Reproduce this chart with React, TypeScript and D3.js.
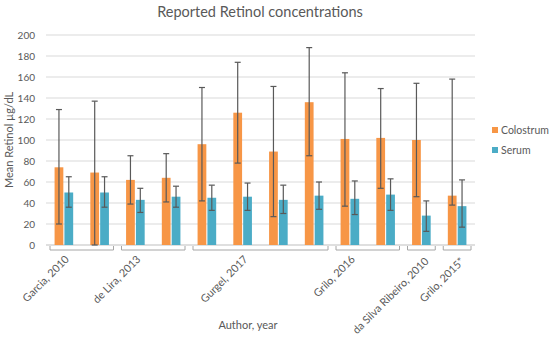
import React from 'react';
import * as d3 from 'd3';

// study groups (outer axis level) and how many sub-columns each one holds
const groups = ['Garcia, 2010', 'de Lira, 2013', 'Gurgel, 2017', 'Grilo, 2016', 'da Silva Ribeiro, 2010', 'Grilo, 2015*'];
const groupSizes = [2, 2, 4, 2, 1, 1];

const seriesNames = ['Colostrum', 'Serum'];

// mean values, with error bar ends
const colostrum = [74, 69, 62, 64, 96, 126, 89, 136, 101, 102, 100, 47];
const colostrumHi = [129, 137, 85, 87, 150, 174, 151, 188, 164, 149, 154, 158];
const colostrumLo = [20, 0, 39, 41, 42, 78, 27, 85, 37, 54, 46, 38];
const serum = [50, 50, 43, 46, 45, 46, 43, 47, 44, 48, 28, 37];
const serumHi = [65, 65, 54, 56, 57, 59, 57, 60, 61, 63, 42, 62];
const serumLo = [36, 36, 31, 36, 33, 33, 30, 34, 29, 33, 13, 17];

const yTicks = d3.range(0, 201, 20);

const colors = ['#F79646', '#4BACC6'];
const textColor = '#595959';
const font = 'Lato, "Open Sans", sans-serif';

const W = 550;
const H = 339;
const plot = { left: 46, right: 475, top: 35, bottom: 245 };

export default function App() {
  const idx = d3.range(colostrum.length);
  const x = d3.scaleBand<number>().domain(idx).range([plot.left, plot.right]).padding(0);
  const y = d3.scaleLinear().domain([0, 200]).range([plot.bottom, plot.top]);
  const inner = d3.scaleBand<string>().domain(seriesNames).range([-9.3, 9.3]).paddingInner(0.11);

  const series = [
    { name: seriesNames[0], v: colostrum, hi: colostrumHi, lo: colostrumLo, color: colors[0] },
    { name: seriesNames[1], v: serum, hi: serumHi, lo: serumLo, color: colors[1] },
  ];

  // start index of each group
  const starts: number[] = [];
  groupSizes.reduce((acc, n) => { starts.push(acc); return acc + n; }, 0);

  return (
    <svg width={W} height={H} style={{ position: 'absolute', left: 0, top: 0, background: '#fff' }} fontFamily={font}>
      <text x={260} y={17} textAnchor="middle" fontSize={14.5} fill={textColor}>Reported Retinol concentrations</text>

      {yTicks.map(t => (
        <g key={t}>
          <line x1={plot.left} x2={plot.right} y1={y(t)} y2={y(t)} stroke={t === 0 ? '#BFBFBF' : '#D9D9D9'} strokeWidth={1} />
          <text x={35} y={y(t)} dy="0.35em" textAnchor="end" fontSize={10} fill={textColor}>{t}</text>
        </g>
      ))}

      {series.map(s => (
        <g key={s.name}>
          {idx.map(i => {
            const cx = x(i)! + x.bandwidth() / 2 + inner(s.name)!;
            const bw = inner.bandwidth();
            const mid = cx + bw / 2;
            return (
              <g key={i}>
                <rect x={cx} y={y(s.v[i])} width={bw} height={y(0) - y(s.v[i])} fill={s.color} />
                <line x1={mid} x2={mid} y1={y(s.hi[i])} y2={y(s.lo[i])} stroke="#595959" strokeWidth={1.2} />
                <line x1={mid - 3} x2={mid + 3} y1={y(s.hi[i])} y2={y(s.hi[i])} stroke="#595959" strokeWidth={1.2} />
                <line x1={mid - 3} x2={mid + 3} y1={y(s.lo[i])} y2={y(s.lo[i])} stroke="#595959" strokeWidth={1.2} />
              </g>
            );
          })}
        </g>
      ))}

      {groups.map((g, gi) => {
        const a = x(starts[gi])! + 4;
        const b = x(starts[gi] + groupSizes[gi] - 1)! + x.bandwidth() - 4;
        const c = (a + b) / 2;
        const single = groupSizes[gi] === 1;
        const lx = c + (single ? 8 : -12);
        const ly = single ? 262 : 260;
        return (
          <g key={g}>
            <path d={`M${a},246V250H${b}V246`} fill="none" stroke="#A6A6A6" strokeWidth={1} />
            <text transform={`translate(${lx},${ly}) rotate(-45)`} textAnchor="end" fontSize={10.8} fill={textColor}>{g}</text>
          </g>
        );
      })}

      <text transform="translate(13,140) rotate(-90)" textAnchor="middle" fontSize={11} fill={textColor}>Mean Retinol µg/dL</text>
      <text x={248} y={329} textAnchor="middle" fontSize={11} fill={textColor}>Author, year</text>

      {series.map((s, i) => (
        <g key={s.name} transform={`translate(492,${127 + i * 20})`}>
          <rect x={0} y={0} width={6} height={6} fill={s.color} />
          <text x={9} y={3} dy="0.35em" fontSize={10.5} fill={textColor}>{s.name}</text>
        </g>
      ))}
    </svg>
  );
}
